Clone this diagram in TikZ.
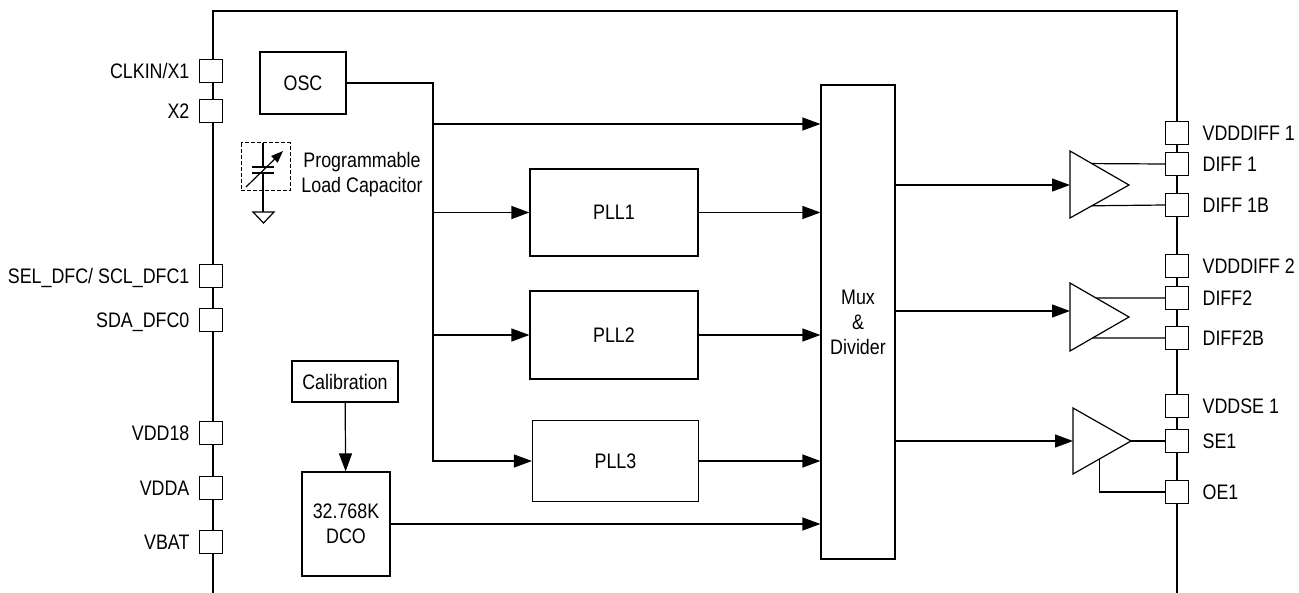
\documentclass[tikz,border=0pt]{standalone}
\usepackage{fontspec}
\setmainfont{Liberation Sans}[FakeStretch=0.85]
\usetikzlibrary{arrows.meta,calc}
\begin{document}
\begin{tikzpicture}[x=0.5pt,y=-0.5pt,line width=0.6pt,
	font=\fontsize{10.5}{12.5}\selectfont,
	>={Triangle[length=9pt,width=6.5pt]},
	blk/.style={draw,inner sep=0pt,align=center},
	pad/.style={draw,fill=white,minimum size=11.5pt,inner sep=0pt},
	pinlbl/.style={inner sep=0pt,text height=7.5pt,text depth=0pt}]
	\useasboundingbox (0,0) rectangle (1299,593);
	% chip outline
	\draw[line width=1.2pt] (213,593)--(213,11)--(1177,11)--(1177,593);
	% blocks
	\node[blk,minimum width=43pt,minimum height=31pt] (osc) at (303,83) {OSC};
	\node[blk,minimum width=84pt,minimum height=43.5pt] (pll1) at (614,212.5) {PLL1};
	\node[blk,minimum width=84pt,minimum height=44pt] (pll2) at (614,335) {PLL2};
	\node[blk,minimum width=83pt,minimum height=40.5pt] (pll3) at (615.5,461) {PLL3};
	\node[blk,minimum width=37pt,minimum height=237pt] (mux) at (858,322) {Mux\\\&\\Divider};
	\node[blk,minimum width=53pt,minimum height=20.5pt] (cal) at (345,381.5) {Calibration};
	\node[blk,minimum width=44pt,minimum height=52pt] (dco) at (346,524) {32.768K\\DCO};
	% clock tree
	\coordinate (tap) at (433,124);
	\draw[->] (osc.east) -| (tap |- pll3.west) -- (pll3.west);
	\draw[->] (tap) -- (tap -| mux.west);
	\draw[->] (tap |- pll1.west) -- (pll1.west);
	\draw[->] (tap |- pll2.west) -- (pll2.west);
	\foreach \src in {pll1,pll2,pll3,dco}
		\draw[->] (\src.east) -- (\src.east -| mux.west);
	\draw[->] (cal) -- (dco);
	% load capacitor
	\draw[dash pattern=on 2pt off 1pt,line width=0.5pt] (241,143) rectangle (290,191);
	\draw (263,143)--(263,167) (252,167)--(274,167) (252,173)--(274,173) (263,173)--(263,212);
	\draw (253,212)--(274,212)--(263.5,223)--cycle;
	\draw[-{Triangle[length=6pt,width=4.5pt]}] (246,187)--(283,151);
	\node[align=center,inner sep=0pt] (caplbl) at (362,175) {Programmable\\Load Capacitor};
	% output buffers
	\path
	(1070,151) coordinate (b1t) (1129,185) coordinate (b1o) (1070,218) coordinate (b1b) (1070,185) coordinate (b1i)
	(1070,283) coordinate (b2t) (1129,317) coordinate (b2o) (1070,351) coordinate (b2b) (1070,311) coordinate (b2i)
	(1073,408) coordinate (b3t) (1131,441) coordinate (b3o) (1073,474) coordinate (b3b) (1073,441) coordinate (b3i)
	;
	\foreach \buf in {b1,b2,b3}{
		\draw (\buf t)--(\buf o)--(\buf b)--cycle;
		\draw[->] (\buf i -| mux.east) -- (\buf i);
	}
	% pins
	\foreach \name/\y/\txt in {xin/71/{CLKIN/X1},xtwo/111/X2,sel/276/{SEL\_DFC/ SCL\_DFC1},
		sda/320/SDA\_DFC0,vdd18/433/VDD18,vdda/488/VDDA,vbat/542/VBAT}{
		\node[pad] (\name) at (211,\y) {};
		\node[pinlbl,anchor=east] (\name-t) at (190,\y) {\txt};
	}
	\foreach \name/\y/\txt in {vdiff1/133/VDDDIFF 1,diff1/164/DIFF 1,diff1b/205/DIFF 1B,
		vdiff2/266/VDDDIFF 2,diff2/298/DIFF2,diff2b/338/DIFF2B,vse1/406/VDDSE 1,se1/441/SE1,oe1/492/OE1}{
		\node[pad] (\name) at (1177,\y) {};
		\node[pinlbl,anchor=west] (\name-t) at (1202,\y) {\txt};
	}
	\draw ($(b1t)!0.37!(b1o)$) -- (diff1.west);
	\draw ($(b1b)!0.37!(b1o)$) -- (diff1b.west);
	\draw ($(b2t)!0.44!(b2o)$) -- (diff2.west);
	\draw ($(b2b)!0.38!(b2o)$) -- (diff2b.west);
	\draw (b3o) -- (se1.west);
	\draw ($(b3b)!0.45!(b3o)$) |- (oe1.west);
\end{tikzpicture}
\end{document}
